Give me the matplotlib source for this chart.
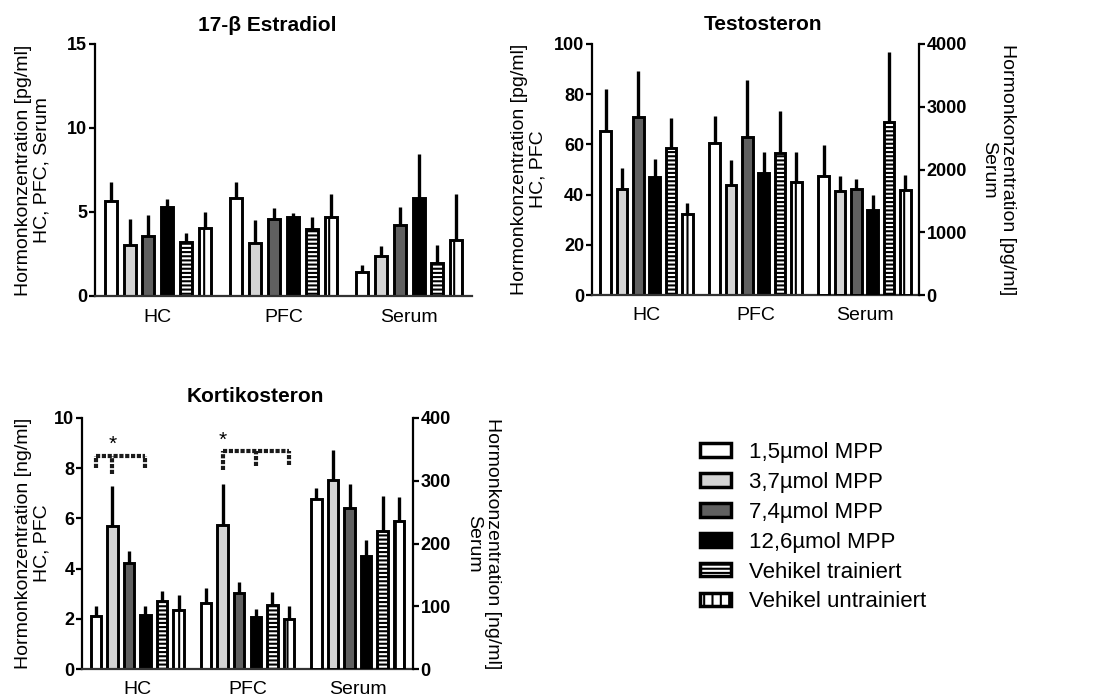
import matplotlib

matplotlib.use("Agg")
import matplotlib.pyplot as plt
import numpy as np
from matplotlib.patches import Patch

plt.rcParams["font.family"] = ["Liberation Sans", "DejaVu Sans"]
plt.rcParams["hatch.linewidth"] = 1.5

W, H = 1102, 699

REGIONS = ["HC", "PFC", "Serum"]
TREATMENTS = [
    "1,5µmol MPP",
    "3,7µmol MPP",
    "7,4µmol MPP",
    "12,6µmol MPP",
    "Vehikel trainiert",
    "Vehikel untrainiert",
]

# mean and upper SEM per treatment, one list per region
estradiol_hc = [5.67, 3.04, 3.57, 5.32, 3.21, 4.03]
estradiol_hc_sem = [1.13, 1.56, 1.25, 0.45, 0.52, 0.99]
estradiol_pfc = [5.85, 3.17, 4.58, 4.68, 4.00, 4.72]
estradiol_pfc_sem = [0.95, 1.35, 0.68, 0.24, 0.68, 1.33]
estradiol_serum = [1.45, 2.38, 4.23, 5.81, 1.94, 3.33]
estradiol_serum_sem = [0.40, 0.60, 1.09, 2.62, 1.10, 2.77]

testo_hc = [65.3, 42.4, 71.0, 47.1, 58.4, 32.4]
testo_hc_sem = [16.6, 8.3, 18.2, 7.2, 12.3, 4.3]
testo_pfc = [60.6, 43.8, 63.0, 48.7, 56.4, 45.1]
testo_pfc_sem = [10.7, 9.9, 22.6, 8.1, 17.0, 11.7]
testo_serum = [1893, 1654, 1697, 1362, 2761, 1670]  # pg/ml, right axis
testo_serum_sem = [495, 245, 154, 239, 1106, 250]

corti_hc = [2.10, 5.68, 4.22, 2.16, 2.70, 2.34]
corti_hc_sem = [0.40, 1.60, 0.49, 0.34, 0.40, 0.59]
corti_pfc = [2.63, 5.75, 3.03, 2.06, 2.54, 1.99]
corti_pfc_sem = [0.60, 1.63, 0.44, 0.33, 0.53, 0.51]
corti_serum = [271.5, 301.7, 256.0, 180.6, 220.4, 236.4]  # ng/ml, right axis
corti_serum_sem = [17.0, 46.8, 39.0, 25.4, 55.6, 37.2]

# significance brackets in Kortikosteron: (region, bar indices, leg ends, bar height, star bar)
corti_brackets = [
    (0, [0, 1, 3], [8.0, 7.77, 8.0], 8.5, 1),
    (1, [1, 3, 5], [7.94, 8.07, 8.14], 8.67, 1),
]

FACES = ["white", "#d4d4d4", "#606060", "black", "white", "white"]
HATCHES = [None, None, None, None, "----", "||"]

OFFSETS = (np.arange(6) - 2.5) * 0.15
BAR_WIDTH = 0.095
XLIM = (-0.5, 2.5)


def px_axes(fig, left, top, right, bottom):
    return fig.add_axes([left / W, 1 - bottom / H, (right - left) / W, (bottom - top) / H])


def draw_group(ax, center, means, sems):
    x = center + OFFSETS
    for xi, m, face, hatch in zip(x, means, FACES, HATCHES):
        ax.bar(xi, m, width=BAR_WIDTH, facecolor=face, edgecolor="black",
               linewidth=2.1, hatch=hatch, zorder=2)
    ax.errorbar(x, means, yerr=[np.zeros(len(means)), sems], fmt="none",
                ecolor="black", elinewidth=2.4, capsize=0, zorder=3)


def style_left(ax, ylim, ticks):
    ax.set_xlim(*XLIM)
    ax.set_ylim(*ylim)
    for side in ("top", "right"):
        ax.spines[side].set_visible(False)
    ax.spines["left"].set_linewidth(1.6)
    ax.spines["bottom"].set_linewidth(1.6)
    ax.spines["bottom"].set_color("#333333")
    ax.set_yticks(ticks, labels=[f"{t:g}" for t in ticks], fontsize=13, fontweight="bold")
    ax.tick_params(axis="y", length=4, width=1.6, pad=1.5)
    ax.set_xticks([0, 1, 2], labels=REGIONS, fontsize=14)
    ax.tick_params(axis="x", length=0, pad=9)


def style_right(ax2, ylim, ticks):
    ax2.set_ylim(*ylim)
    for side in ("top", "left", "bottom"):
        ax2.spines[side].set_visible(False)
    ax2.spines["right"].set_linewidth(1.6)
    ax2.set_yticks(ticks, labels=[f"{t:g}" for t in ticks], fontsize=13, fontweight="bold")
    ax2.tick_params(axis="y", length=4, width=1.6, pad=1.5)


def add_title(ax, text, fx, dy):
    ax.text(fx, 1 + dy, text, transform=ax.transAxes, ha="center", va="center",
            fontsize=15, fontweight="bold")


def add_ylabel(ax, text, fx, rotation=90):
    ax.text(fx, 0.5, text, transform=ax.transAxes, ha="center", va="center",
            rotation=rotation, rotation_mode="anchor", fontsize=14,
            multialignment="center", linespacing=1.15)


fig = plt.figure(figsize=(W / 100, H / 100), dpi=100)

# 17-beta estradiol, single axis
ax1 = px_axes(fig, 95, 44, 472, 296)
draw_group(ax1, 0, estradiol_hc, estradiol_hc_sem)
draw_group(ax1, 1, estradiol_pfc, estradiol_pfc_sem)
draw_group(ax1, 2, estradiol_serum, estradiol_serum_sem)
style_left(ax1, (0, 15), [0, 5, 10, 15])
add_title(ax1, "17-β Estradiol", 0.458, 0.075)
add_ylabel(ax1, "Hormonkonzentration [pg/ml]\nHC, PFC, Serum", -0.165)

# Testosteron, serum on the right axis
ax2 = px_axes(fig, 592, 44, 919, 295)
draw_group(ax2, 0, testo_hc, testo_hc_sem)
draw_group(ax2, 1, testo_pfc, testo_pfc_sem)
style_left(ax2, (0, 100), [0, 20, 40, 60, 80, 100])
ax2r = ax2.twinx()
draw_group(ax2r, 2, testo_serum, testo_serum_sem)
style_right(ax2r, (0, 4000), [0, 1000, 2000, 3000, 4000])
add_title(ax2, "Testosteron", 0.523, 0.076)
add_ylabel(ax2, "Hormonkonzentration [pg/ml]\nHC, PFC", -0.193)
add_ylabel(ax2, "Hormonkonzentration [pg/ml]\nSerum", 1.242, rotation=-90)

# Kortikosteron, serum on the right axis
ax3 = px_axes(fig, 82, 418, 413, 669)
draw_group(ax3, 0, corti_hc, corti_hc_sem)
draw_group(ax3, 1, corti_pfc, corti_pfc_sem)
style_left(ax3, (0, 10), [0, 2, 4, 6, 8, 10])
ax3r = ax3.twinx()
draw_group(ax3r, 2, corti_serum, corti_serum_sem)
style_right(ax3r, (0, 400), [0, 100, 200, 300, 400])
add_title(ax3, "Kortikosteron", 0.523, 0.084)
add_ylabel(ax3, "Hormonkonzentration [ng/ml]\nHC, PFC", -0.148)
add_ylabel(ax3, "Hormonkonzentration [ng/ml]\nSerum", 1.211, rotation=-90)

bracket_style = dict(color="#1a1a1a", linewidth=3.0, linestyle=(0, (1, 0.4)),
                     solid_capstyle="butt", zorder=4)
for region, idx, legs, top, star in corti_brackets:
    xs = region + OFFSETS[idx]
    ax3.plot([xs[0], xs[-1]], [top, top], **bracket_style)
    for xb, yb in zip(xs, legs):
        ax3.plot([xb, xb], [yb, top], **bracket_style)
    star_x = region + OFFSETS[star] if region == 0 else xs[0]
    ax3.text(star_x, top + 0.08, "*", ha="center", va="bottom", fontsize=15)

handles = [
    Patch(facecolor=f, edgecolor="black", linewidth=2.5, hatch=h)
    for f, h in zip(FACES, HATCHES)
]
fig.legend(handles, TREATMENTS, loc="upper left", bbox_to_anchor=(700 / W, 1 - 442 / H),
           frameon=False, fontsize=16, handlelength=1.4, handleheight=0.55,
           handletextpad=0.8, labelspacing=0.40, borderpad=0, borderaxespad=0)

fig.savefig("out.png", dpi=100)
